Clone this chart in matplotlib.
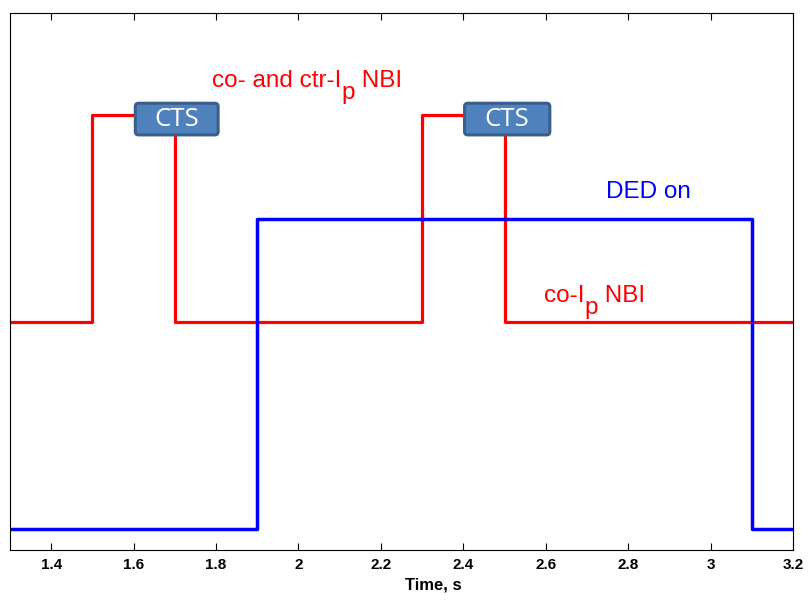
import matplotlib.pyplot as plt
from matplotlib.patches import FancyBboxPatch

plt.rcParams['font.family'] = ['Liberation Sans', 'DejaVu Sans']

# NBI timing (red) and DED timing (blue), step signals
nbi_t = [1.3, 1.5, 1.7, 2.3, 2.5, 3.2]
nbi_y = [0.425, 0.81, 0.425, 0.81, 0.425, 0.425]
ded_t = [1.3, 1.9, 3.1, 3.2]
ded_y = [0.04, 0.617, 0.04, 0.04]

# CTS measurement windows
cts_start = [1.604, 2.403]
cts_end = [1.805, 2.61]

xticks = [1.4, 1.6, 1.8, 2.0, 2.2, 2.4, 2.6, 2.8, 3.0, 3.2]
xticklabels = ['1.4', '1.6', '1.8', '2', '2.2', '2.4', '2.6', '2.8', '3', '3.2']

fig = plt.figure(figsize=(8.08, 6), dpi=100)
ax = fig.add_axes([0.0124, 0.0833, 0.9690, 0.895])

ax.plot(nbi_t, nbi_y, color='red', lw=2.3, drawstyle='steps-post')
ax.plot(ded_t, ded_y, color='blue', lw=2.5, drawstyle='steps-post')

for s, e in zip(cts_start, cts_end):
    box = FancyBboxPatch((s, 0.773), e - s, 0.059,
                         boxstyle='round,pad=0,rounding_size=0.008',
                         mutation_aspect=0.77, facecolor='#4F81BD',
                         edgecolor='#3A5F8B', lw=2.2, zorder=5)
    ax.add_patch(box)
    ax.text((s + e) / 2, 0.8015, 'CTS', color='white', fontsize=18.5,
            family=['Open Sans', 'DejaVu Sans'], ha='center', va='center', zorder=6)

ax.set_xlim(1.3, 3.2)
ax.set_ylim(0, 1)
ax.set_xticks(xticks)
ax.set_xticklabels(xticklabels, fontsize=11, fontweight='bold')
ax.set_yticks([])
ax.tick_params(axis='x', direction='in', top=True, length=5, pad=6)
ax.set_xlabel('Time, s', fontsize=12, fontweight='bold')
ax.xaxis.set_label_coords(0.54, -0.052)

renderer = fig.canvas.get_renderer()


def sub_label(x, y, before, sub, after, color, size=17.5, drop=12):
    # big, low subscript like in the original figure
    t1 = ax.text(x, y, before, color=color, fontsize=size, va='baseline')
    bb = t1.get_window_extent(renderer)
    px, py = ax.transData.transform((x, y))
    t2 = ax.text(bb.x1, py - drop, sub, color=color, fontsize=size,
                 va='baseline', transform=None)
    bb2 = t2.get_window_extent(renderer)
    ax.text(bb2.x1, py, after, color=color, fontsize=size,
            va='baseline', transform=None)


sub_label(1.79, 0.862, 'co- and ctr-I', 'p', ' NBI', 'red')
sub_label(2.595, 0.462, 'co-I', 'p', ' NBI', 'red')
ax.text(2.746, 0.655, 'DED on', color='blue', fontsize=17.5, va='baseline')

fig.savefig('out.png', dpi=100)
